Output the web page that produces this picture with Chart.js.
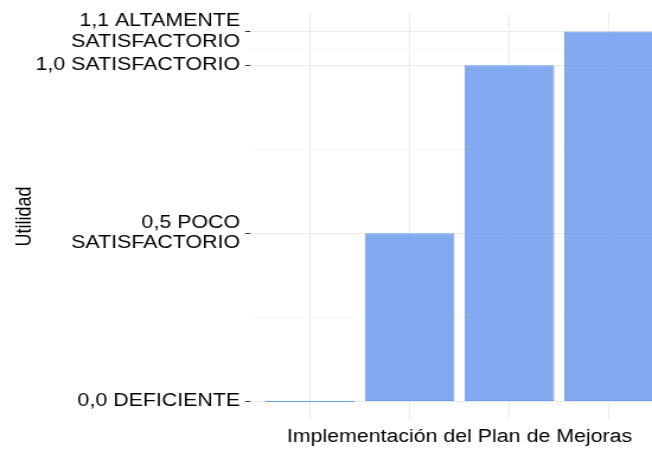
<!DOCTYPE html>
<html>
<head>
<meta charset="utf-8">
<script src="https://cdn.jsdelivr.net/npm/chart.js@4/dist/chart.umd.min.js"></script>
<style>
html, body { margin: 0; padding: 0; background: #ffffff; overflow: hidden; width: 652px; height: 449px; }
#wrap { position: absolute; left: 0; top: 0; width: 575px; height: 449px; transform: scaleX(1.1855); transform-origin: 0 0; }
canvas { display: block; }
</style>
</head>
<body>
<div id="wrap"><canvas id="c" width="575" height="449"></canvas></div>
<script>
// ---- data ----
const categories = [1, 2, 3, 4];
const utilidad = [0, 0.5, 1.0, 1.1];
const yTickValues = [0, 0.5, 1.0, 1.1];
const yTickLabels = [
  ['0,0 DEFICIENTE'],
  ['0,5 POCO', 'SATISFACTORIO'],
  ['1,0 SATISFACTORIO'],
  ['1,1 ALTAMENTE', 'SATISFACTORIO']
];
const yMinorValues = [0.25, 0.75, 1.05];
const xTitle = 'Implementación del Plan de Mejoras';
const yTitle = 'Utilidad';

// ---- chart ----
const FONT = 'Liberation Sans, Arial, Helvetica, sans-serif';
const isMajor = v => yTickValues.some(t => Math.abs(t - v) < 1e-9);

new Chart(document.getElementById('c'), {
  type: 'bar',
  data: {
    datasets: [{
      data: categories.map((c, i) => ({ x: c, y: utilidad[i] })),
      backgroundColor: 'rgba(100,149,237,0.8)',
      borderColor: '#6F9CEE',
      borderWidth: 1,
      borderSkipped: false,
      minBarLength: 1.6,
      categoryPercentage: 0.9,
      barPercentage: 1.0
    }]
  },
  options: {
    responsive: false,
    animation: false,
    devicePixelRatio: 1,
    layout: { padding: { top: 13, right: 10.7, bottom: 0, left: 0 } },
    plugins: { legend: { display: false }, tooltip: { enabled: false } },
    scales: {
      x: {
        type: 'linear',
        min: 0.4,
        max: 4.6,
        offset: false,
        afterBuildTicks: s => { s.ticks = categories.map(v => ({ value: v })); },
        afterFit: s => { s.paddingLeft = 0; s.paddingRight = 0; },
        ticks: { display: false },
        grid: { offset: false, color: '#EBEBEB', lineWidth: 1, drawTicks: false },
        border: { display: false },
        title: {
          display: true,
          text: xTitle,
          color: '#000000',
          font: { family: FONT, size: 18, lineHeight: 1.2 },
          padding: { top: 6.2, bottom: 1.2 }
        }
      },
      y: {
        type: 'linear',
        min: -0.055,
        max: 1.155,
        afterBuildTicks: s => {
          s.ticks = [...yTickValues, ...yMinorValues].sort((a, b) => a - b).map(v => ({ value: v }));
        },
        afterFit: s => { s.width = 210.9; s.paddingTop = 0; s.paddingBottom = 0; },
        ticks: {
          autoSkip: false,
          maxRotation: 0,
          minRotation: 0,
          padding: 4.5,
          color: '#000000',
          font: { family: FONT, size: 18, lineHeight: 1.12 },
          callback: v => {
            const i = yTickValues.findIndex(t => Math.abs(t - v) < 1e-9);
            return i >= 0 ? yTickLabels[i] : '';
          }
        },
        grid: {
          color: ctx => isMajor(ctx.tick.value) ? '#EBEBEB' : '#F5F5F5',
          lineWidth: ctx => isMajor(ctx.tick.value) ? 1 : 0.7,
          tickColor: ctx => isMajor(ctx.tick.value) ? '#333333' : 'rgba(0,0,0,0)',
          tickLength: 4,
          drawTicks: true
        },
        border: { display: false },
        title: {
          display: true,
          text: yTitle,
          color: '#000000',
          font: { family: FONT, size: 18, lineHeight: 1.2 },
          padding: { top: 10.2, bottom: 0 }
        }
      }
    }
  }
});
</script>
</body>
</html>
